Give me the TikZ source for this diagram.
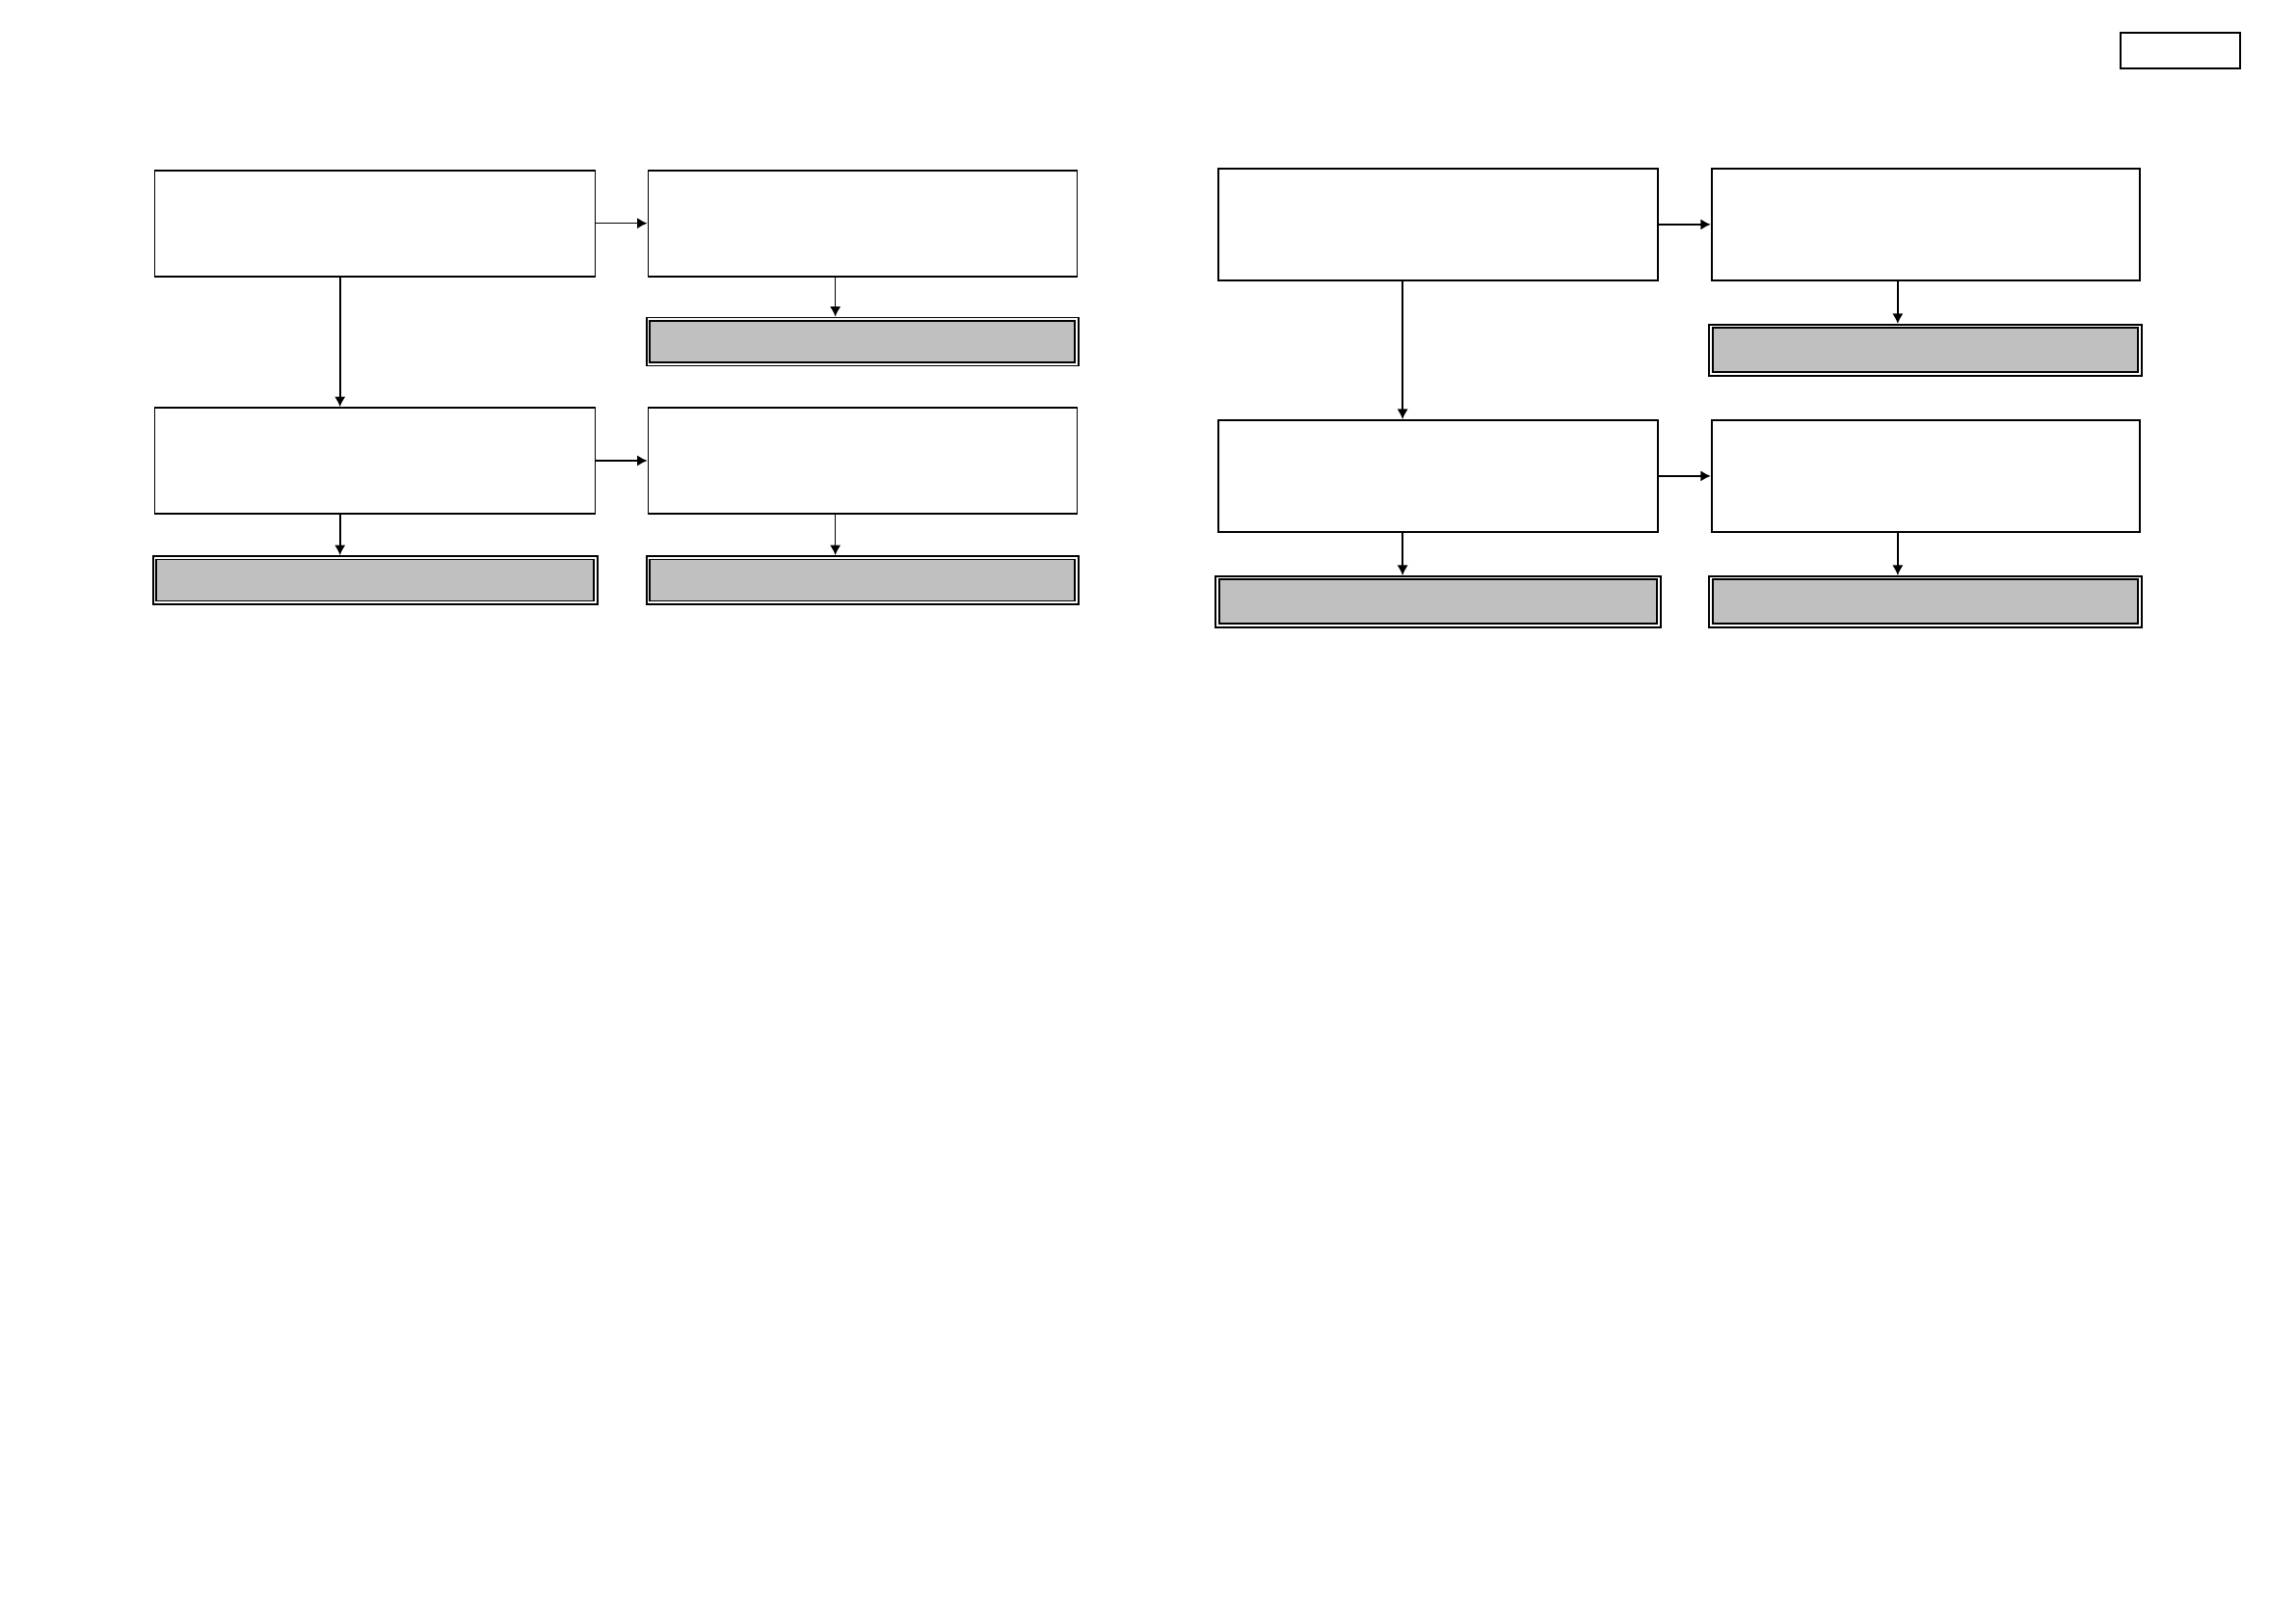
\documentclass[tikz,border=0pt]{standalone}
\usepackage{tikz}
\usetikzlibrary{arrows.meta,positioning}
\definecolor{BoxGray}{HTML}{C0C0C0}
\tikzset{
  etapa/.style     = {draw, line width=0.5pt, fill=white, inner sep=0pt,
                      minimum width=4.57cm, minimum height=1.10cm},
  resultado/.style = {draw, line width=0.5pt, fill=white, inner sep=0pt,
                      minimum width=4.61cm, minimum height=0.50cm,
                      path picture={\draw[line width=0.55pt, fill=BoxGray]
                        ([shift={(0.035,-0.035)}]path picture bounding box.north west) rectangle
                        ([shift={(-0.035,0.035)}]path picture bounding box.south east);}},
  marco/.style     = {draw, line width=0.5pt, inner sep=0pt,
                      minimum width=1.24cm, minimum height=0.37cm},
  flecha/.style    = {-{Latex[length=3pt,width=3.2pt]}, line width=0.45pt},
}
\begin{document}
\begin{tikzpicture}
  \useasboundingbox (0,0) rectangle (23.82,-16.84);
  % recuadro superior derecho
  \node[marco] (rotulo) at (22.62,-0.525) {};
  % panel izquierdo
  \node[etapa] (p11) at (3.891,-2.317) {};
  \node[etapa, minimum width=4.45cm] (p12) at (8.95,-2.317) {};
  \node[resultado, minimum width=4.48cm] (p12r) at (8.947,-3.545) {};
  \node[etapa] (p21) at (3.891,-4.78) {};
  \node[etapa, minimum width=4.45cm] (p22) at (8.95,-4.78) {};
  \node[resultado] (p21r) at (3.894,-6.02) {};
  \node[resultado, minimum width=4.48cm] (p22r) at (8.947,-6.02) {};
  \draw[flecha] (p11) -- (p12);
  \draw[flecha] (p21) -- (p22);
  \draw[flecha] ([xshift=1.93cm]p11.south west) -- ([xshift=1.93cm]p21.north west);
  \draw[flecha] ([xshift=1.95cm]p12.south west) -- ([xshift=1.95cm]p12.south west |- p12r.north);
  \draw[flecha] ([xshift=1.93cm]p21.south west) -- ([xshift=1.93cm]p21.south west |- p21r.north);
  \draw[flecha] ([xshift=1.95cm]p22.south west) -- ([xshift=1.95cm]p22.south west |- p22r.north);
  % panel derecho
  \node[etapa, minimum width=4.56cm, minimum height=1.16cm] (q11) at (14.92,-2.329) {};
  \node[etapa, minimum width=4.44cm, minimum height=1.16cm] (q12) at (19.977,-2.329) {};
  \node[resultado, minimum width=4.487cm, minimum height=0.53cm] (q12r) at (19.974,-3.633) {};
  \node[etapa, minimum width=4.56cm, minimum height=1.16cm] (q21) at (14.92,-4.939) {};
  \node[etapa, minimum width=4.44cm, minimum height=1.16cm] (q22) at (19.977,-4.939) {};
  \node[resultado, minimum width=4.613cm, minimum height=0.53cm] (q21r) at (14.92,-6.244) {};
  \node[resultado, minimum width=4.487cm, minimum height=0.53cm] (q22r) at (19.974,-6.244) {};
  \draw[flecha] (q11) -- (q12);
  \draw[flecha] (q21) -- (q22);
  \draw[flecha] ([xshift=1.92cm]q11.south west) -- ([xshift=1.92cm]q21.north west);
  \draw[flecha] ([xshift=1.94cm]q12.south west) -- ([xshift=1.94cm]q12.south west |- q12r.north);
  \draw[flecha] ([xshift=1.92cm]q21.south west) -- ([xshift=1.92cm]q21.south west |- q21r.north);
  \draw[flecha] ([xshift=1.94cm]q22.south west) -- ([xshift=1.94cm]q22.south west |- q22r.north);
\end{tikzpicture}
\end{document}
